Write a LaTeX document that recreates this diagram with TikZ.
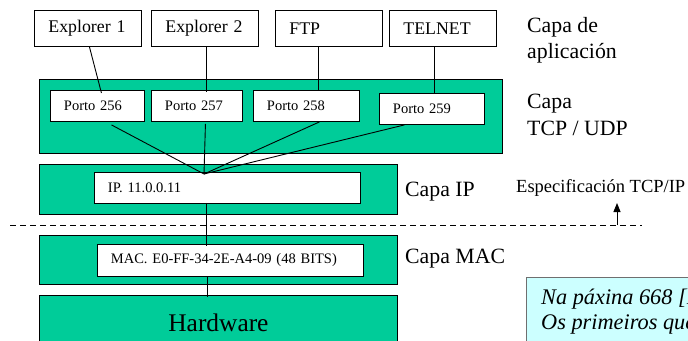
\documentclass[tikz,border=0pt]{standalone}
\usepackage{fontspec}
\setmainfont{Liberation Serif}
\usetikzlibrary{calc,arrows.meta}
\definecolor{layergreen}{HTML}{00CC99}
\definecolor{notecyan}{HTML}{CCFFFF}
\definecolor{notegray}{HTML}{6F6F6F}
\tikzset{
  wbox/.style={draw=black, fill=white, line width=0.9pt, inner xsep=13.5pt, inner ysep=0pt,
    align=left, anchor=north west, font=\fontsize{14.5}{16}\selectfont},
  appbox/.style={wbox, inner xsep=14pt, font=\fontsize{17.8}{20}\selectfont},
  layer/.style={draw=black, fill=layergreen, line width=0.9pt, anchor=north west, inner sep=0pt},
  link/.style={line width=0.9pt},
  lbl/.style={anchor=base west, inner sep=0pt, font=\fontsize{21.8}{26}\selectfont},
  notetext/.style={anchor=base west, inner sep=0pt, font=\fontsize{22.3}{26}\selectfont\itshape},
  sep/.style={line width=0.9pt, dash pattern=on 6pt off 4pt},
}
\begin{document}
\begin{tikzpicture}[x=1pt,y=-1pt]
\useasboundingbox (0,0) rectangle (688,340);
\clip (0,0) rectangle (688,340);

% application boxes
\node[appbox, minimum height=36, text width=79pt] (e1) at (34,10) {Explorer 1};
\node[appbox, minimum height=36, text width=79pt] (e2) at (151,10) {Explorer 2};
\node[appbox, minimum height=36, text width=79pt] (ftp) at (275,10) {FTP};
\node[appbox, minimum height=36, text width=79pt] (telnet) at (389,10) {TELNET};

% layers
\node[layer, minimum width=463, minimum height=74] (tcp) at (39,79) {};
\node[layer, minimum width=358, minimum height=50] (ipl) at (39,164) {};
\node[layer, minimum width=358, minimum height=49] (macl) at (39,235) {};
\node[layer, minimum width=358, minimum height=55, font=\fontsize{25.4}{28}\selectfont] (hw) at (39,295) {Hardware};

% ports
\node[wbox, minimum height=31, text width=67pt] (p256) at (50,90) {Porto 256};
\node[wbox, minimum height=31, text width=64pt] (p257) at (151,90) {Porto 257};
\node[wbox, minimum height=31, text width=79pt] (p258) at (253,90) {Porto 258};
\node[wbox, minimum height=31, text width=78pt] (p259) at (379,93) {Porto 259};

% addresses
\node[wbox, minimum height=31, text width=239pt] (ipw) at (94,172) {IP. 11.0.0.11};
\node[wbox, minimum height=32, text width=239pt] (macw) at (97,244) {MAC. E0-FF-34-2E-A4-09 (48 BITS)};

% connectors app -> ports
\draw[link] ($(e1.south)+(1.5,0)$) -- ($(p256.north)+(4,3)$);
\draw[link] ($(e2.south)+(1.5,0)$) -- ($(p257.north)+(9.5,2)$);
\draw[link] ($(ftp.south)+(-10.5,0)$) -- ($(p258.north)+(12,0)$);
\draw[link] ($(telnet.south)+(-8.5,0)$) -- ($(p259.north)+(2.5,0)$);

% ports -> IP
\coordinate (hub) at ($(ipw.north west)+(110,2)$);
\draw[link] ($(p256.south)+(14,3)$) -- (hub);
\draw[link] ($(p257.south)+(8.5,2)$) -- (hub);
\draw[link] ($(p258.south)+(13,0)$) -- (hub);
\draw[link] ($(p259.south)+(-27.5,0)$) -- (hub);

% IP -> MAC -> Hardware
\draw[link] ($(ipw.south)+(-21,-1)$) -- ($(macw.north)+(-24,2)$);
\draw[link] ($(macw.south)+(-23,0)$) -- ($(hw.north)+(-11,2)$);

% separator
\coordinate (dl) at (10,225);
\coordinate (dr) at (642,225);
\draw[sep] (dl) -- (dr);

% labels
\node[lbl] (la1) at (527,32) {Capa de};
\node[lbl] (la2) at (527,58) {aplicación};
\node[lbl] (lt1) at (527,108) {Capa};
\node[lbl] (lt2) at (527,135) {TCP / UDP};
\node[lbl] (lip) at (405,196) {Capa IP};
\node[lbl] (lmac) at (405,263) {Capa MAC};
\node[anchor=base west, inner sep=0pt, font=\fontsize{18.5}{20}\selectfont] (spec) at (516,192) {Especificación TCP/IP};

% arrow to specification
\coordinate (ab) at (617,225);
\draw[link, -{Triangle[length=9pt,width=7pt]}] (ab) -- ($(spec.base west)+(101,11)$);

% note
\node[draw=notegray, fill=notecyan, line width=0.9pt, anchor=north west, minimum width=220, minimum height=100, inner sep=0pt] (note) at (526,277) {};
\node[notetext] (n1) at (541,304) {Na páxina 668 [I};
\node[notetext] (n2) at (541,329) {Os primeiros que};
\end{tikzpicture}
\end{document}
